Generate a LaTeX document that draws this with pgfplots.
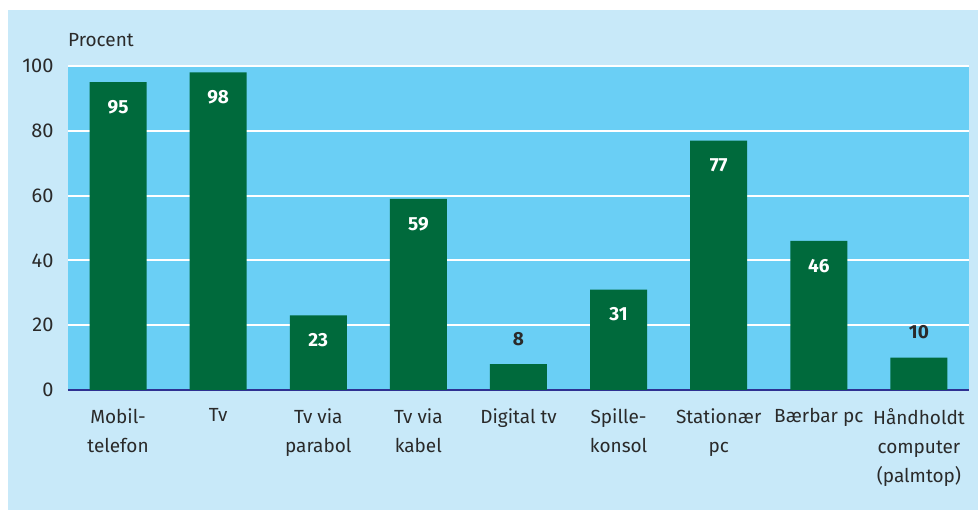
\documentclass[border=0pt]{standalone}
\usepackage{pgfplots}
\pgfplotsset{compat=1.18}
\usepackage{fontspec}
\setmainfont{Fira Sans}
\definecolor{outerbg}{HTML}{C8E9F9}
\definecolor{innerbg}{HTML}{6ACFF5}
\definecolor{bargreen}{HTML}{006A3C}
\definecolor{axisblue}{HTML}{2E3192}
\definecolor{txt}{HTML}{2A2A2A}
\begin{document}
\begin{tikzpicture}
\useasboundingbox (0,0) rectangle (978pt,511pt);
\fill[white] (0,0) rectangle (978pt,511pt);
\fill[outerbg] (8pt,1pt) rectangle (978pt,501pt);
\node[anchor=west, font=\fontsize{19}{22}\selectfont, text=txt, inner sep=0] at (68pt,471pt) {Procent};
\begin{axis}[
  at={(68pt,121pt)}, anchor=south west,
  scale only axis, width=901pt, height=324pt,
  xmin=-0.5, xmax=8.5, ymin=0, ymax=100,
  ytick={0,20,40,60,80,100},
  xtick={0,1,2,3,4,5,6,7,8},
  xticklabels={{Mobil-\\telefon},{Tv},{Tv via\\parabol},{Tv via\\kabel},{Digital tv},{Spille-\\konsol},{Stationær\\pc},{Bærbar pc},{Håndholdt\\computer\\(palmtop)}},
  xticklabel style={align=center, font=\fontsize{19}{29}\selectfont, text=txt, anchor=north, yshift=-15pt},
  yticklabel style={font=\fontsize{20}{22}\selectfont, text=txt, xshift=-11pt},
  /pgf/number format/assume math mode=true,
  major tick length=0pt,
  axis background/.style={fill=innerbg},
  ymajorgrids, grid style={white, line width=2pt},
  axis x line*=bottom, axis y line*=left,
  y axis line style={draw=none},
  x axis line style={draw=axisblue, line width=1.5pt, -},
  ybar, bar width=57pt, bar shift=0pt,
  clip=false,
]
\addplot[fill=bargreen, draw=none,
  nodes near coords,
  nodes near coords style={anchor=center, yshift=-25pt, text=white, font=\fontsize{19}{22}\selectfont\bfseries}]
  coordinates {(0,95) (1,98) (2,23) (3,59) (5,31) (6,77) (7,46)};
\addplot[fill=bargreen, draw=none,
  nodes near coords,
  nodes near coords style={anchor=center, yshift=25pt, text=txt, font=\fontsize{19}{22}\selectfont\bfseries}]
  coordinates {(4,8) (8,10)};
\end{axis}
\end{tikzpicture}
\end{document}
